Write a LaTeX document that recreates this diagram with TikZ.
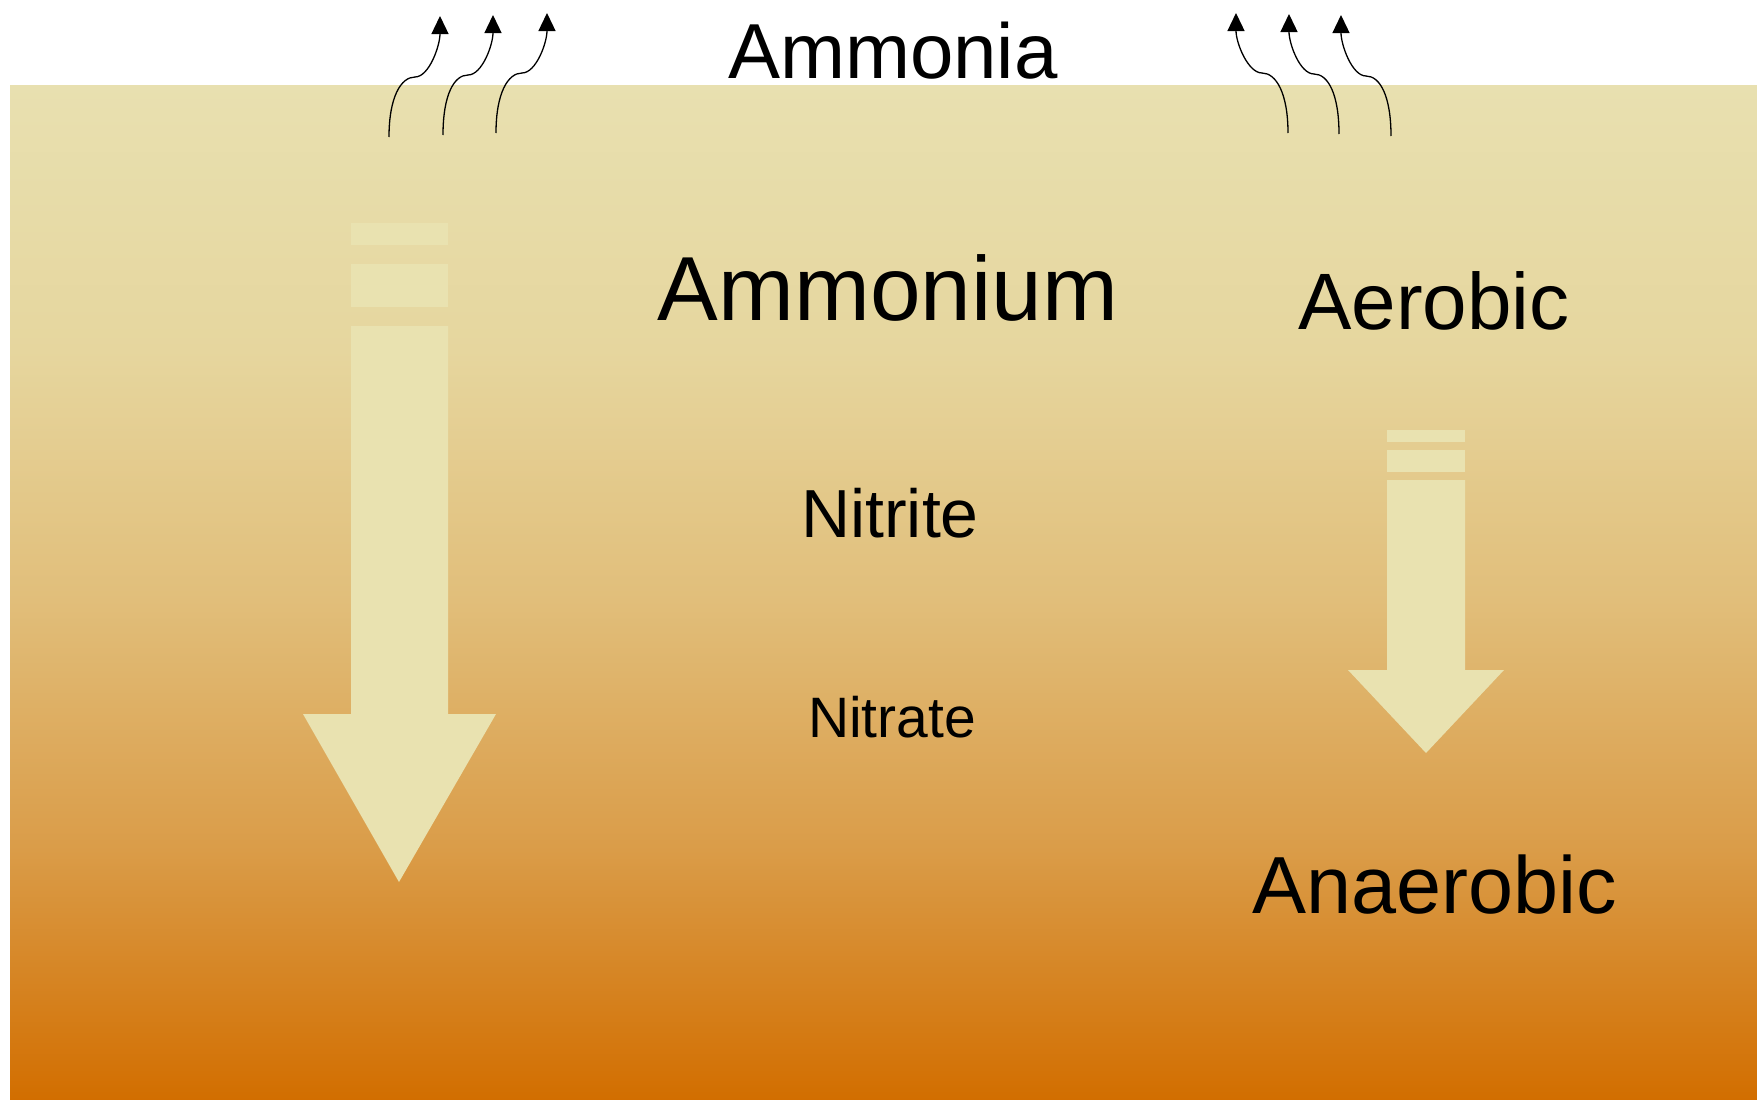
\documentclass[tikz,border=0pt]{standalone}
\usepackage{fontspec}
\setmainfont{Liberation Sans}
\usetikzlibrary{arrows.meta}
\definecolor{cA}{RGB}{232,224,176}
\definecolor{cB}{RGB}{230,214,158}
\definecolor{cC}{RGB}{225,190,122}
\definecolor{cD}{RGB}{218,156,72}
\definecolor{cE}{RGB}{210,110,0}
\definecolor{arrowc}{RGB}{233,226,176}
\tikzset{
  lbl/.style={anchor=base, inner sep=0pt, text=black},
  gas/.style={line width=1.3pt, black, -{Triangle[length=18pt,width=17pt]}},
  blockarrow/.style={fill=arrowc, draw=none},
}
\newcommand{\fs}[1]{\fontsize{#1}{#1}\selectfont}
\begin{document}
\begin{tikzpicture}[x=1pt,y=-1pt]
\useasboundingbox (0,0) rectangle (1757,1100);
\fill[white] (0,0) rectangle (1757,1100);
% soil gradient
\shade[top color=cA,bottom color=cB] (10,85) rectangle (1757,351);
\shade[top color=cB,bottom color=cC] (10,350) rectangle (1757,601);
\shade[top color=cC,bottom color=cD] (10,600) rectangle (1757,851);
\shade[top color=cD,bottom color=cE] (10,850) rectangle (1757,1100);
% left block arrow
\fill[blockarrow] (351,223) rectangle (448,245);
\fill[blockarrow] (351,264) rectangle (448,307);
\fill[blockarrow] (351,326) -- (448,326) -- (448,714) -- (496,714) -- (399,882) -- (303,714) -- (351,714) -- cycle;
% right block arrow
\fill[blockarrow] (1387,430) rectangle (1465,442);
\fill[blockarrow] (1387,450) rectangle (1465,472);
\fill[blockarrow] (1387,480) -- (1465,480) -- (1465,670) -- (1504,670) -- (1426,753) -- (1348,670) -- (1387,670) -- cycle;
% gas arrows
\coordinate (l1s) at (389,137); \coordinate (l1t) at (440,16);
\coordinate (l2s) at (443,135); \coordinate (l2t) at (493,15);
\coordinate (l3s) at (496,133); \coordinate (l3t) at (547,13);
\draw[gas] (l1s) .. controls +(0,-40) and +(-14,0) .. ++(26,-60) .. controls +(14,0) and +(0,30) .. (l1t);
\draw[gas] (l2s) .. controls +(0,-40) and +(-14,0) .. ++(25,-60) .. controls +(14,0) and +(0,30) .. (l2t);
\draw[gas] (l3s) .. controls +(0,-40) and +(-14,0) .. ++(26,-60) .. controls +(14,0) and +(0,30) .. (l3t);
\coordinate (r1s) at (1288,133); \coordinate (r1t) at (1236,13);
\coordinate (r2s) at (1339,134); \coordinate (r2t) at (1289,14);
\coordinate (r3s) at (1391,136); \coordinate (r3t) at (1341,15);
\draw[gas] (r1s) .. controls +(0,-40) and +(14,0) .. ++(-26,-60) .. controls +(-14,0) and +(0,30) .. (r1t);
\draw[gas] (r2s) .. controls +(0,-40) and +(14,0) .. ++(-25,-60) .. controls +(-14,0) and +(0,30) .. (r2t);
\draw[gas] (r3s) .. controls +(0,-40) and +(14,0) .. ++(-25,-60) .. controls +(-14,0) and +(0,30) .. (r3t);
% labels
\node[lbl, font=\fs{78}] (ammonia) at (893,78) {Ammonia};
\node[lbl, font=\fs{91}] (ammonium) at (888,320) {Ammonium};
\node[lbl, font=\fs{80}] (aerobic) at (1434,329) {Aerobic};
\node[lbl, font=\fs{68}] (nitrite) at (890,537) {Nitrite};
\node[lbl, font=\fs{57}] (nitrate) at (892,737) {Nitrate};
\node[lbl, font=\fs{81}] (anaerobic) at (1435,913) {Anaerobic};
\end{tikzpicture}
\end{document}
